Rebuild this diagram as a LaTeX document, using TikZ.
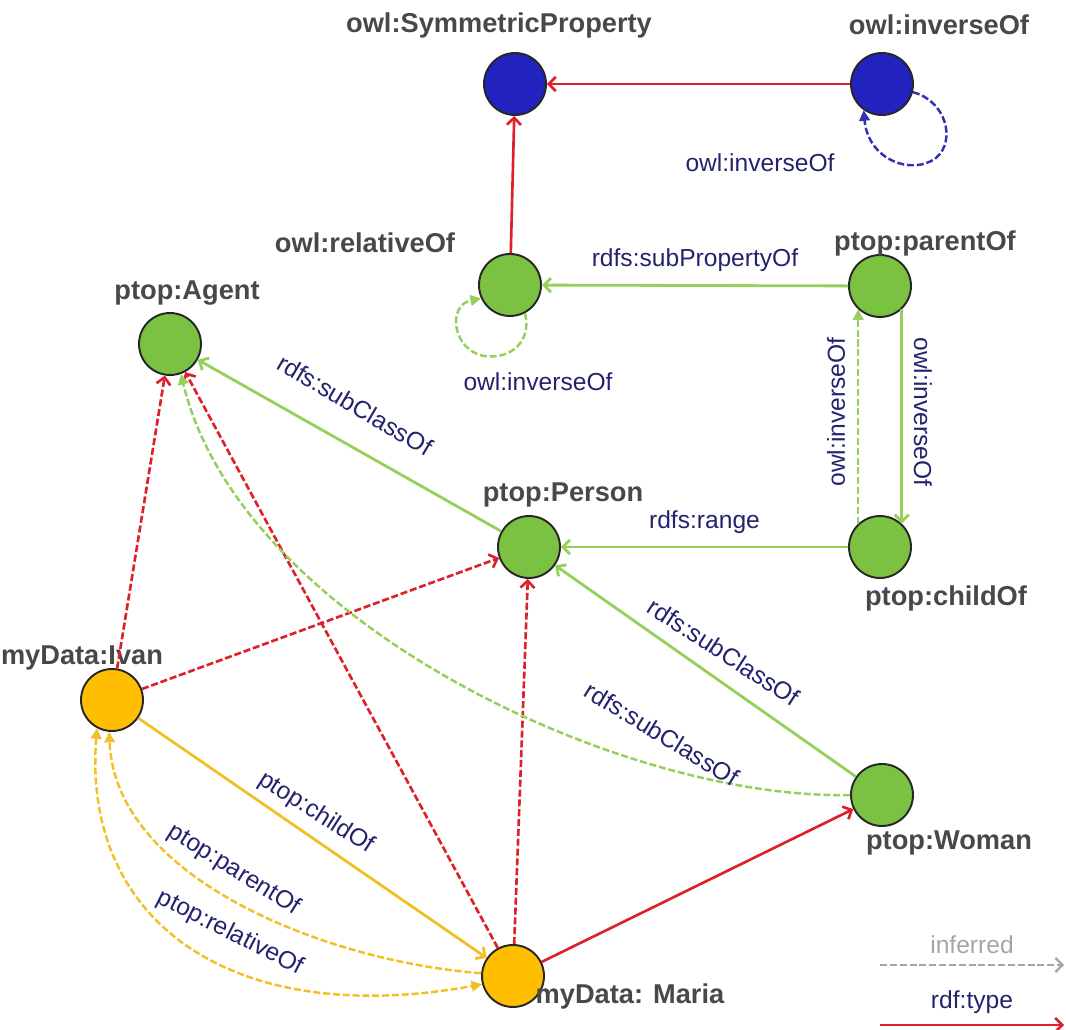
\documentclass[tikz,border=0pt]{standalone}
\usepackage{fontspec}
\setmainfont{Liberation Sans}
\usetikzlibrary{arrows.meta}
\definecolor{gfill}{RGB}{124,194,66}
\definecolor{ofill}{RGB}{255,190,0}
\definecolor{bfill}{RGB}{34,34,190}
\definecolor{redl}{RGB}{222,32,40}
\definecolor{greenl}{RGB}{150,208,90}
\definecolor{orangel}{RGB}{240,192,40}
\definecolor{bluel}{RGB}{50,50,175}
\definecolor{navy}{RGB}{35,35,110}
\definecolor{gtext}{RGB}{72,72,72}
\definecolor{legray}{RGB}{165,165,165}
\begin{document}
\begin{tikzpicture}[x=0.02cm,y=-0.02cm,
  vtx/.style={circle,draw=black!85,line width=1.1pt,minimum size=1.24cm,inner sep=0pt},
  gv/.style={vtx,fill=gfill}, ov/.style={vtx,fill=ofill}, bv/.style={vtx,fill=bfill},
  nlab/.style={text=gtext,font=\fontsize{15.5}{17}\selectfont\bfseries,inner sep=0pt},
  elab/.style={text=navy,font=\fontsize{14}{16}\selectfont,inner sep=0pt},
  barb/.style={-{Straight Barb[length=4pt,width=8pt]}},
  tri/.style={-{Triangle[length=6pt,width=6pt]}},
  dsh/.style={dash pattern=on 4pt off 1.6pt},
  redsolid/.style={draw=redl,line width=1.5pt,barb},
  reddash/.style={draw=redl,line width=1.5pt,dsh,barb},
  greensolid/.style={draw=greenl,line width=1.6pt,barb},
  greendash/.style={draw=greenl,line width=1.4pt,dsh,tri},
  orangesolid/.style={draw=orangel,line width=1.6pt,barb},
  orangedash/.style={draw=orangel,line width=1.4pt,dsh,tri},
  bluedash/.style={draw=bluel,line width=1.4pt,dsh,tri}
]
\useasboundingbox (0,0) rectangle (1066,1030);

% vertices
\node[bv] (sym) at (515,84) {};
\node[bv] (inv) at (882,84) {};
\node[gv] (rel) at (510,285) {};
\node[gv] (par) at (880,286) {};
\node[gv] (agt) at (170,344) {};
\node[gv] (per) at (529,547) {};
\node[gv] (chi) at (880,547) {};
\node[ov] (iva) at (112,700) {};
\node[gv] (wom) at (882,795) {};
\node[ov] (mar) at (513,976) {};

% vertex labels
\node[nlab] (symL) at (499,25) {owl:SymmetricProperty};
\node[nlab] (invL) at (939,25) {owl:inverseOf};
\node[nlab] (relL) at (365,243) {owl:relativeOf};
\node[nlab] (parL) at (925,243) {ptop:parentOf};
\node[nlab] (agtL) at (187,293) {ptop:Agent};
\node[nlab] (perL) at (563,495) {ptop:Person};
\node[nlab] (chiL) at (946,598) {ptop:childOf};
\node[nlab] (ivaL) at (82,658) {myData:Ivan};
\node[nlab] (womL) at (949,843) {ptop:Woman};
\node[nlab] (marL) at (630,996) {myData: Maria};

% red rdf:type edges
\draw[redsolid] (inv) -- (sym);
\draw[redsolid] (rel) -- (sym);
\draw[redsolid] (mar) -- (wom);
\draw[reddash] (iva) -- (agt);
\draw[reddash] (iva) -- (per);
\draw[reddash] (mar) -- (agt);
\draw[reddash] (mar) -- (per);

% loops
\draw[bluedash] (inv.-15) .. controls (945,100) and (957,140) .. (936,158)
  .. controls (912,176) and (868,160) .. (inv.-125);
\node[elab] (invLoopL) at (760,163) {owl:inverseOf};
\draw[greendash] (rel.-62) .. controls (532,340) and (512,360) .. (484,356)
  .. controls (452,350) and (447,305) .. (rel.-155);
\node[elab] (relLoopL) at (538,382) {owl:inverseOf};

% green schema edges
\draw[greensolid] (par) -- node[elab,above=7pt] (subPropL) {rdfs:subPropertyOf} (rel);
\draw[greensolid] (par.-47) -- (chi.47);
\draw[greendash] (chi.133) -- (par.-133);
\node[elab,rotate=-90] (invR) at (923,412) {owl:inverseOf};
\node[elab,rotate=90] (invLft) at (836,412) {owl:inverseOf};
\draw[greensolid] (chi) -- node[elab,above=7pt] (rangeL) {rdfs:range} (per);
\draw[greensolid] (per) -- (agt);
\node[elab,rotate=-30.5] (subA) at (355,405) {rdfs:subClassOf};
\draw[greensolid] (wom) -- (per);
\node[elab,rotate=-33] (subB) at (724,652) {rdfs:subClassOf};
\draw[greendash] (wom.west) .. controls (620,800) and (240,620) .. (agt.-70);
\node[elab,rotate=-31.5] (subC) at (662,734) {rdfs:subClassOf};

% orange instance edges
\draw[orangesolid] (iva) -- (mar);
\node[elab,rotate=-32.5] (childL) at (316,813) {ptop:childOf};
\draw[orangedash] (mar.175) .. controls (330,962) and (115,880) .. (iva.-95);
\node[elab,rotate=-32] (parentL) at (234,870) {ptop:parentOf};
\draw[orangedash,{Triangle[length=6pt,width=6pt]}-{Triangle[length=6pt,width=6pt]}]
  (iva.-118) .. controls (82,920) and (230,1030) .. (mar.195);
\node[elab,rotate=-27] (relativeL) at (230,933) {ptop:relativeOf};

% legend
\coordinate (infA) at (880,965);
\coordinate (infB) at (1064,965);
\draw[draw=legray,line width=1.3pt,dsh,-{Straight Barb[length=4pt,width=8pt]}] (infA) -- node[above=6pt,text=legray,font=\fontsize{14}{16}\selectfont,inner sep=0pt] (infL) {inferred} (infB);
\coordinate (typA) at (880,1025);
\coordinate (typB) at (1064,1025);
\draw[redsolid] (typA) -- node[elab,above=6pt] (typL) {rdf:type} (typB);
\end{tikzpicture}
\end{document}
